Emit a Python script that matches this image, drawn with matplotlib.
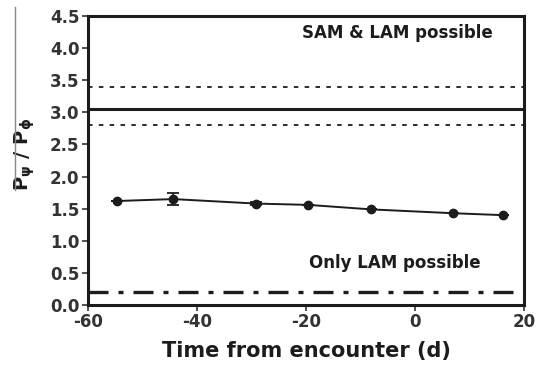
import numpy as np
import matplotlib
matplotlib.use('Agg')
import matplotlib.pyplot as plt
from matplotlib.lines import Line2D

plt.rcParams['font.family'] = ['DejaVu Sans']
plt.rcParams['font.weight'] = 'bold'
plt.rcParams['axes.unicode_minus'] = False
plt.rcParams['mathtext.fontset'] = 'custom'
plt.rcParams['mathtext.rm'] = 'DejaVu Sans:bold'
plt.rcParams['mathtext.it'] = 'DejaVu Sans:bold'
plt.rcParams['mathtext.bf'] = 'DejaVu Sans:bold'

# ratio measurements vs. time from encounter
days = [-54.6, -44.3, -29.1, -19.6, -8.1, 7.0, 16.2]
ratio = [1.62, 1.65, 1.58, 1.56, 1.49, 1.43, 1.40]
ratio_err = [0.0, 0.09, 0.025, 0.0, 0.0, 0.0, 0.0]

# threshold levels
sam_limit = 3.05
sam_band = [3.39, 2.80]
lam_limit = 0.20

ink = '#1c1c1c'
fig = plt.figure(figsize=(5.42, 3.69), dpi=100)
ax = fig.add_axes([0.162, 0.173, 0.805, 0.784])

ax.errorbar(days, ratio, yerr=ratio_err, color=ink, marker='o', ms=6,
            lw=1.4, capsize=4, elinewidth=1.2, capthick=1.3, zorder=3)

ax.axhline(sam_limit, color=ink, lw=2.2)
for lvl in sam_band:
    ax.axhline(lvl, color=ink, lw=1.3, ls=(0, (2.5, 3.5)))
ax.axhline(lam_limit, color=ink, lw=2.4, ls=(0, (6, 3, 1.5, 3)))

ax.text(14.3, 4.24, 'SAM & LAM possible', ha='right', va='center',
        fontsize=12, fontweight='bold', color=ink)
ax.text(12.1, 0.65, 'Only LAM possible', ha='right', va='center',
        fontsize=12, fontweight='bold', color=ink)

ax.set_xlim(-60, 20)
ax.set_ylim(0, 4.5)
ax.set_xticks([-60, -40, -20, 0, 20])
ax.set_yticks(np.arange(0, 4.51, 0.5))
ax.set_yticklabels(['%.1f' % v for v in np.arange(0, 4.51, 0.5)])
for s in ax.spines.values():
    s.set_linewidth(2.2)
    s.set_color(ink)
ax.tick_params(direction='out', length=4, width=1.2, colors='#333333',
               labelsize=12, pad=2)
for lab in ax.get_xticklabels() + ax.get_yticklabels():
    lab.set_fontweight('bold')

ax.set_xlabel('Time from encounter (d)', fontsize=15, fontweight='bold',
              color=ink, labelpad=7)
ax.set_ylabel(r'P$_\psi$ / P$_\phi$', fontsize=14, fontweight='bold',
              color=ink)
ax.yaxis.set_label_coords(-0.116, 0.52)

fig.add_artist(Line2D([0.027, 0.027], [0.485, 0.981], transform=fig.transFigure,
                      color='#888888', lw=1))

fig.savefig('out.png', dpi=100)
